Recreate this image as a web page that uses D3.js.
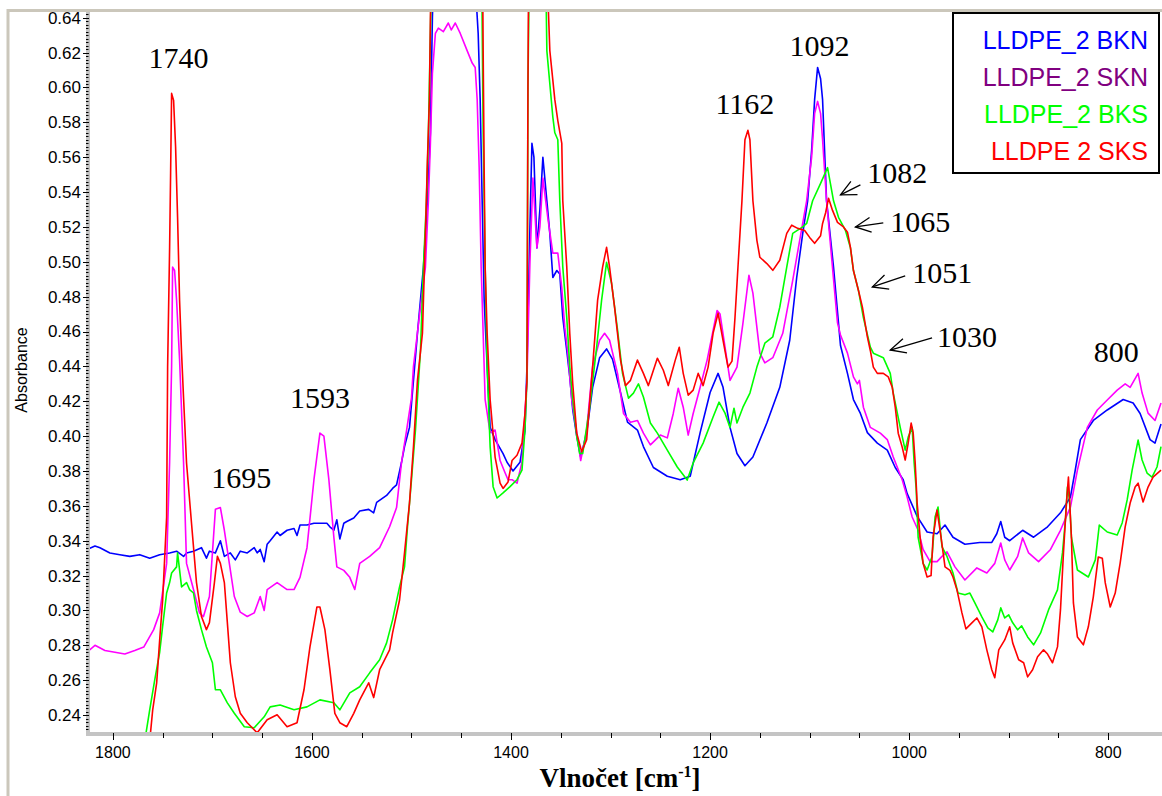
<!DOCTYPE html>
<html>
<head>
<meta charset="utf-8">
<script src="https://cdn.jsdelivr.net/npm/d3@7"></script>
<style>
  html, body { margin: 0; padding: 0; background: #fff; }
  svg { display: block; }
  .tick-label { font-family: "Liberation Sans", Arial, sans-serif; fill: #000; }
  .peak { font-family: "Liberation Serif", "Times New Roman", serif; font-size: 30px; fill: #000; }
</style>
</head>
<body>
<svg width="1162" height="796"></svg>
<script>
// wavenumber [cm-1], absorbance
const bkn = [[1826,0.335],[1818,0.337],[1813,0.336],[1803,0.333],[1793,0.332],[1783,0.331],[1773,0.332],[1763,0.330],[1753,0.332],[1743,0.333],[1736,0.334],[1729,0.331],[1726,0.333],[1719,0.334],[1711,0.336],[1706,0.330],[1703,0.334],[1697,0.333],[1692,0.340],[1688,0.331],[1682,0.333],[1677,0.329],[1672,0.334],[1665,0.333],[1658,0.336],[1655,0.333],[1652,0.335],[1648,0.328],[1645,0.338],[1642,0.340],[1635,0.345],[1632,0.343],[1625,0.346],[1618,0.347],[1615,0.343],[1612,0.349],[1605,0.349],[1598,0.350],[1592,0.350],[1585,0.350],[1582,0.348],[1578,0.346],[1575,0.352],[1572,0.341],[1568,0.350],[1565,0.351],[1558,0.353],[1552,0.357],[1543,0.358],[1538,0.356],[1535,0.362],[1525,0.366],[1519,0.370],[1515,0.372],[1510,0.385],[1507,0.394],[1502,0.405],[1494,0.459],[1488,0.497],[1484,0.535],[1481,0.574],[1479,0.640],[1476,0.700],[1470,0.720],[1440,0.720],[1436,0.660],[1433,0.631],[1431,0.593],[1429,0.535],[1427,0.478],[1424,0.440],[1421,0.405],[1416,0.398],[1408,0.390],[1404,0.385],[1398,0.380],[1391,0.385],[1386,0.403],[1384,0.440],[1381,0.520],[1379,0.568],[1377,0.560],[1374,0.508],[1371,0.530],[1368,0.560],[1364,0.535],[1361,0.516],[1358,0.491],[1354,0.495],[1351,0.493],[1348,0.468],[1344,0.449],[1341,0.434],[1338,0.415],[1334,0.400],[1330,0.388],[1324,0.402],[1318,0.428],[1311,0.445],[1304,0.450],[1298,0.444],[1290,0.425],[1283,0.408],[1273,0.4035],[1267,0.394],[1257,0.382],[1243,0.377],[1230,0.375],[1220,0.377],[1210,0.402],[1200,0.425],[1192,0.436],[1187,0.428],[1180,0.405],[1173,0.390],[1165,0.383],[1157,0.388],[1143,0.4075],[1130,0.428],[1120,0.455],[1113,0.491],[1107,0.516],[1102,0.535],[1098,0.564],[1095,0.593],[1092,0.6115],[1089,0.605],[1087,0.593],[1083,0.535],[1076,0.497],[1069,0.452],[1062,0.436],[1056,0.421],[1049,0.413],[1042,0.402],[1032,0.396],[1022,0.392],[1014,0.382],[1006,0.375],[1002,0.367],[992,0.354],[982,0.345],[972,0.344],[964,0.349],[956,0.342],[944,0.338],[929,0.339],[917,0.339],[912,0.344],[908,0.351],[904,0.342],[899,0.340],[886,0.346],[875,0.342],[861,0.348],[848,0.356],[838,0.365],[833,0.381],[828,0.398],[815,0.409],[801,0.415],[785,0.421],[775,0.419],[768,0.413],[758,0.398],[753,0.396],[747,0.407]];

const skn = [[1826,0.276],[1818,0.280],[1808,0.277],[1798,0.276],[1788,0.275],[1778,0.277],[1769,0.279],[1759,0.289],[1753,0.2986],[1746,0.327],[1743,0.385],[1741,0.440],[1740,0.497],[1738,0.495],[1736,0.478],[1733,0.444],[1729,0.385],[1726,0.327],[1719,0.312],[1713,0.2986],[1709,0.2965],[1703,0.308],[1697,0.358],[1692,0.359],[1688,0.346],[1683,0.327],[1678,0.308],[1672,0.299],[1665,0.2965],[1658,0.2986],[1652,0.308],[1648,0.300],[1645,0.312],[1635,0.316],[1625,0.312],[1618,0.312],[1612,0.319],[1605,0.336],[1598,0.375],[1592,0.4017],[1588,0.400],[1583,0.375],[1578,0.342],[1575,0.325],[1568,0.323],[1562,0.319],[1557,0.312],[1552,0.327],[1542,0.331],[1532,0.336],[1522,0.348],[1515,0.359],[1510,0.385],[1505,0.403],[1500,0.422],[1498,0.440],[1491,0.474],[1486,0.497],[1483,0.535],[1481,0.568],[1479,0.608],[1476,0.631],[1473,0.634],[1468,0.632],[1463,0.637],[1460,0.633],[1456,0.637],[1451,0.631],[1444,0.621],[1439,0.614],[1436,0.6115],[1434,0.593],[1432,0.554],[1430,0.497],[1428,0.459],[1426,0.421],[1421,0.402],[1416,0.4035],[1411,0.386],[1406,0.379],[1403,0.375],[1399,0.375],[1394,0.373],[1389,0.385],[1386,0.413],[1384,0.432],[1381,0.500],[1378,0.548],[1374,0.508],[1371,0.520],[1368,0.548],[1363,0.525],[1358,0.505],[1353,0.505],[1349,0.485],[1346,0.4625],[1343,0.448],[1339,0.421],[1334,0.402],[1330,0.386],[1324,0.4035],[1318,0.440],[1311,0.455],[1306,0.459],[1301,0.455],[1293,0.436],[1287,0.413],[1280,0.408],[1273,0.409],[1267,0.4017],[1260,0.395],[1250,0.4006],[1243,0.399],[1237,0.413],[1232,0.4275],[1227,0.4166],[1222,0.4006],[1217,0.413],[1210,0.428],[1203,0.4436],[1193,0.472],[1190,0.470],[1185,0.451],[1180,0.432],[1173,0.4396],[1167,0.4648],[1161,0.4923],[1157,0.482],[1150,0.4476],[1145,0.442],[1137,0.445],[1127,0.459],[1117,0.4894],[1110,0.5123],[1103,0.535],[1098,0.560],[1095,0.585],[1092,0.592],[1089,0.585],[1087,0.570],[1083,0.535],[1076,0.490],[1072,0.465],[1069,0.458],[1062,0.4476],[1056,0.434],[1052,0.430],[1050,0.432],[1046,0.4166],[1039,0.405],[1029,0.4017],[1022,0.398],[1016,0.388],[1007,0.375],[1002,0.365],[997,0.3536],[991,0.346],[986,0.335],[979,0.328],[972,0.328],[967,0.331],[962,0.3336],[954,0.325],[944,0.3175],[932,0.3244],[922,0.3215],[914,0.327],[908,0.3387],[904,0.329],[899,0.3232],[891,0.331],[886,0.3416],[880,0.333],[870,0.328],[858,0.335],[848,0.346],[838,0.3593],[831,0.3805],[821,0.405],[811,0.415],[801,0.4207],[791,0.4264],[783,0.430],[778,0.428],[770,0.436],[766,0.4247],[760,0.4132],[753,0.409],[747,0.419]];

const bks = [[1768,0.225],[1763,0.243],[1758,0.260],[1753,0.276],[1750,0.291],[1746,0.310],[1743,0.316],[1741,0.3215],[1736,0.325],[1735,0.333],[1731,0.3135],[1726,0.316],[1723,0.312],[1719,0.310],[1716,0.300],[1711,0.289],[1706,0.279],[1700,0.270],[1697,0.2545],[1692,0.2545],[1685,0.247],[1678,0.241],[1668,0.2333],[1658,0.2327],[1648,0.239],[1642,0.2447],[1632,0.2458],[1618,0.243],[1605,0.2447],[1592,0.2487],[1578,0.247],[1572,0.243],[1562,0.2527],[1552,0.2562],[1542,0.2642],[1532,0.2717],[1525,0.2814],[1519,0.2946],[1512,0.3135],[1507,0.325],[1504,0.348],[1500,0.375],[1496,0.4035],[1491,0.449],[1488,0.497],[1485,0.535],[1483,0.574],[1481,0.631],[1479,0.700],[1440,0.720],[1430,0.700],[1428,0.574],[1426,0.497],[1424,0.440],[1421,0.394],[1418,0.371],[1414,0.3645],[1408,0.3674],[1401,0.371],[1394,0.375],[1389,0.3805],[1386,0.4035],[1384,0.432],[1383,0.600],[1381,0.700],[1366,0.700],[1364,0.621],[1361,0.602],[1358,0.583],[1356,0.574],[1353,0.570],[1351,0.535],[1348,0.497],[1344,0.468],[1341,0.440],[1338,0.421],[1334,0.400],[1331,0.390],[1328,0.390],[1321,0.4166],[1314,0.451],[1309,0.478],[1304,0.4997],[1299,0.4877],[1293,0.461],[1288,0.436],[1282,0.4218],[1277,0.4247],[1272,0.430],[1267,0.4224],[1260,0.4075],[1253,0.4017],[1243,0.392],[1233,0.3823],[1223,0.3748],[1217,0.3846],[1207,0.396],[1197,0.411],[1191,0.4195],[1185,0.4132],[1180,0.405],[1176,0.416],[1173,0.4075],[1167,0.4166],[1160,0.4247],[1153,0.4396],[1145,0.4533],[1137,0.457],[1130,0.474],[1123,0.4969],[1117,0.5163],[1107,0.520],[1103,0.522],[1097,0.535],[1089,0.545],[1082,0.554],[1076,0.535],[1071,0.5255],[1064,0.518],[1059,0.508],[1056,0.495],[1051,0.4837],[1046,0.468],[1039,0.451],[1036,0.4476],[1026,0.445],[1019,0.436],[1016,0.4247],[1009,0.405],[1004,0.392],[1001,0.3994],[997,0.405],[995,0.3846],[993,0.370],[991,0.342],[986,0.327],[982,0.3232],[977,0.331],[974,0.3536],[971,0.3593],[967,0.3364],[962,0.331],[956,0.3215],[951,0.310],[944,0.309],[939,0.310],[934,0.3043],[927,0.2963],[921,0.290],[916,0.2877],[911,0.2946],[908,0.3015],[904,0.2957],[900,0.2975],[896,0.2929],[891,0.2889],[887,0.2912],[881,0.2848],[875,0.2803],[868,0.2871],[860,0.3003],[851,0.3118],[846,0.333],[843,0.352],[841,0.3708],[839,0.364],[837,0.342],[831,0.3232],[820,0.3192],[813,0.329],[809,0.349],[801,0.345],[791,0.3433],[786,0.3502],[781,0.3634],[776,0.3805],[770,0.3977],[766,0.3863],[761,0.3788],[756,0.3765],[751,0.3823],[747,0.394]];

const sks = [[1763,0.225],[1760,0.243],[1756,0.2585],[1753,0.283],[1750,0.306],[1746,0.3536],[1745,0.440],[1743,0.508],[1742,0.551],[1741,0.5966],[1739,0.5926],[1737,0.566],[1735,0.5255],[1733,0.478],[1731,0.4476],[1729,0.422],[1726,0.3846],[1721,0.350],[1716,0.316],[1711,0.2965],[1706,0.289],[1703,0.293],[1698,0.316],[1695,0.331],[1692,0.327],[1688,0.316],[1685,0.293],[1682,0.270],[1677,0.2505],[1672,0.241],[1665,0.2356],[1655,0.2298],[1645,0.2373],[1635,0.2402],[1625,0.2333],[1615,0.2356],[1608,0.2545],[1602,0.2791],[1595,0.302],[1592,0.302],[1587,0.289],[1582,0.266],[1577,0.241],[1572,0.2356],[1565,0.2333],[1558,0.241],[1552,0.2487],[1543,0.2585],[1538,0.250],[1532,0.266],[1522,0.2774],[1519,0.2871],[1512,0.306],[1507,0.333],[1502,0.3616],[1498,0.394],[1494,0.432],[1489,0.459],[1486,0.516],[1484,0.558],[1482,0.593],[1481,0.640],[1479,0.700],[1440,0.720],[1429,0.700],[1428,0.621],[1427,0.554],[1426,0.497],[1424,0.459],[1421,0.421],[1416,0.388],[1411,0.373],[1408,0.370],[1403,0.3737],[1399,0.386],[1394,0.389],[1389,0.396],[1386,0.413],[1384,0.432],[1383,0.600],[1382,0.700],[1366,0.700],[1361,0.621],[1356,0.593],[1353,0.581],[1349,0.568],[1348,0.535],[1344,0.497],[1341,0.459],[1338,0.430],[1334,0.4017],[1329,0.391],[1324,0.398],[1318,0.440],[1313,0.478],[1308,0.497],[1304,0.5083],[1301,0.497],[1296,0.474],[1290,0.4436],[1285,0.429],[1280,0.432],[1273,0.4436],[1267,0.436],[1262,0.429],[1253,0.4447],[1247,0.4378],[1242,0.429],[1235,0.4436],[1231,0.451],[1227,0.436],[1222,0.4235],[1217,0.4264],[1212,0.436],[1207,0.429],[1202,0.4396],[1197,0.459],[1192,0.4705],[1187,0.455],[1182,0.4396],[1178,0.443],[1175,0.468],[1172,0.497],[1168,0.535],[1165,0.570],[1162,0.5754],[1160,0.570],[1157,0.535],[1153,0.5123],[1150,0.5026],[1143,0.499],[1137,0.4951],[1130,0.5009],[1123,0.5163],[1118,0.521],[1112,0.5192],[1105,0.518],[1100,0.514],[1095,0.5106],[1089,0.515],[1087,0.522],[1084,0.528],[1081,0.5364],[1077,0.5295],[1072,0.5226],[1066,0.520],[1062,0.517],[1059,0.5083],[1056,0.495],[1051,0.4837],[1047,0.474],[1042,0.457],[1039,0.449],[1036,0.4396],[1032,0.436],[1026,0.436],[1021,0.434],[1017,0.428],[1014,0.4166],[1011,0.4017],[1007,0.3937],[1004,0.3863],[1001,0.396],[998,0.4075],[996,0.402],[994,0.385],[992,0.3616],[989,0.342],[986,0.327],[982,0.3192],[978,0.320],[976,0.342],[972,0.3576],[968,0.342],[964,0.325],[959,0.323],[956,0.3192],[952,0.3118],[947,0.2986],[943,0.2894],[937,0.2929],[932,0.2957],[927,0.2906],[922,0.2774],[917,0.266],[914,0.2614],[910,0.2774],[904,0.2831],[899,0.2906],[896,0.2814],[890,0.2717],[885,0.270],[881,0.2619],[876,0.266],[871,0.2734],[865,0.2774],[861,0.275],[856,0.270],[851,0.2791],[848,0.3003],[845,0.333],[842,0.3616],[840,0.3765],[837,0.342],[835,0.3043],[831,0.2848],[825,0.2803],[820,0.2906],[815,0.3078],[810,0.3307],[806,0.330],[803,0.3158],[798,0.302],[793,0.310],[788,0.3273],[783,0.3479],[778,0.3616],[773,0.3708],[770,0.373],[765,0.3622],[760,0.3708],[755,0.3765],[747,0.3805]];

const seriesNames = ["LLDPE_2 BKN", "LLDPE_2 SKN", "LLDPE_2 BKS", "LLDPE 2 SKS"];
const yTickValues = [0.24, 0.26, 0.28, 0.30, 0.32, 0.34, 0.36, 0.38, 0.40, 0.42, 0.44, 0.46, 0.48, 0.50, 0.52, 0.54, 0.56, 0.58, 0.60, 0.62, 0.64];
const xTickValues = [1800, 1600, 1400, 1200, 1000, 800];

// peak labels: [text, wavenumber, absorbance, anchor]
const peakLabels = [
  ["1740", 1734, 0.611, "middle"],
  ["1695", 1671, 0.370, "middle"],
  ["1593", 1592, 0.416, "middle"],
  ["1162", 1165, 0.585, "middle"],
  ["1092", 1090, 0.618, "middle"],
  ["1082", 1042, 0.545, "start"],
  ["1065", 1019, 0.517, "start"],
  ["1051", 997, 0.488, "start"],
  ["1030", 972, 0.451, "start"],
  ["800", 792, 0.4425, "middle"]
];
// arrows: [tail wn, tail abs, tip wn, tip abs]
const arrows = [
  [1049, 0.5441, 1069, 0.5384],
  [1026, 0.5223, 1054, 0.5200],
  [1004, 0.4919, 1037, 0.4856],
  [977, 0.4563, 1019, 0.4494]
];

const lineColors = ["#0000ff", "#ff00ff", "#00ff00", "#ff0000"];
const legendColors = ["#0000ff", "#800080", "#00ff00", "#ff0000"];

const svg = d3.select('svg');
const plotLeft = 87, plotRight = 1162, plotTop = 12, plotBottom = 733;

const x = d3.scaleLinear().domain([1826, 746]).range([plotLeft, plotRight]);
const y = d3.scaleLinear().domain([0.2297, 0.6433]).range([plotBottom, plotTop]);

// outer frame
svg.append('line').attr('x1', 8).attr('x2', 1162).attr('y1', 10.5).attr('y2', 10.5)
  .attr('stroke', '#cbc7bb').attr('stroke-width', 3);
svg.append('line').attr('x1', 8).attr('x2', 8).attr('y1', 9).attr('y2', 796)
  .attr('stroke', '#cbc7bb').attr('stroke-width', 3);

svg.append('clipPath').attr('id', 'plot-clip')
  .append('rect').attr('x', plotLeft + 2).attr('y', plotTop)
  .attr('width', plotRight - plotLeft).attr('height', plotBottom - plotTop);

const line = d3.line().x(d => x(d[0])).y(d => y(d[1]));

const plot = svg.append('g').attr('clip-path', 'url(#plot-clip)');
[bkn, skn, bks, sks].forEach((s, i) => {
  plot.append('path')
    .datum(s)
    .attr('fill', 'none')
    .attr('stroke', lineColors[i])
    .attr('stroke-width', 1.6)
    .attr('stroke-linejoin', 'round')
    .attr('d', line);
});

// y axis
const yAxis = svg.append('g');
yAxis.append('line').attr('x1', 88).attr('x2', 88).attr('y1', plotTop).attr('y2', plotBottom + 2)
  .attr('stroke', '#c4c4c4').attr('stroke-width', 4);
const yMinor = d3.range(230, 643, 2).map(v => v / 1000);
yAxis.selectAll('.yminor').data(yMinor).enter().append('line')
  .attr('x1', 86).attr('x2', 88.5)
  .attr('y1', d => Math.round(y(d)) + 0.5).attr('y2', d => Math.round(y(d)) + 0.5)
  .attr('stroke', '#000').attr('stroke-width', 1);
yAxis.selectAll('.ymajor').data(yTickValues).enter().append('line')
  .attr('x1', 83).attr('x2', 89)
  .attr('y1', d => Math.round(y(d)) + 0.5).attr('y2', d => Math.round(y(d)) + 0.5)
  .attr('stroke', '#000').attr('stroke-width', 1);
yAxis.selectAll('.ylab').data(yTickValues).enter().append('text')
  .attr('class', 'tick-label')
  .attr('x', 81).attr('y', d => y(d))
  .attr('dy', '0.35em')
  .attr('text-anchor', 'end')
  .style('font-size', '17px')
  .text(d => d.toFixed(2));

svg.append('text')
  .attr('class', 'tick-label')
  .attr('transform', 'translate(27,370) rotate(-90)')
  .attr('text-anchor', 'middle')
  .style('font-size', '16px')
  .text('Absorbance');

// x axis
const xAxis = svg.append('g');
xAxis.append('line').attr('x1', 86).attr('x2', plotRight).attr('y1', 734).attr('y2', 734)
  .attr('stroke', '#c4c4c4').attr('stroke-width', 4);
const xMinor = d3.range(800, 1801, 50);
xAxis.selectAll('.xminor').data(xMinor).enter().append('line')
  .attr('x1', d => Math.round(x(d)) + 0.5).attr('x2', d => Math.round(x(d)) + 0.5)
  .attr('y1', 733).attr('y2', d => d % 200 === 0 ? 740 : 738)
  .attr('stroke', '#000').attr('stroke-width', 1);
xAxis.selectAll('.xlab').data(xTickValues).enter().append('text')
  .attr('class', 'tick-label')
  .attr('x', d => x(d)).attr('y', 758)
  .attr('text-anchor', 'middle')
  .style('font-size', '16px')
  .text(d => d);

const xTitle = svg.append('text')
  .attr('x', 620).attr('y', 787)
  .attr('text-anchor', 'middle')
  .style('font-family', '"Liberation Serif", "Times New Roman", serif')
  .style('font-weight', 'bold')
  .style('font-size', '27px');
xTitle.append('tspan').text('Vlnočet [cm');
xTitle.append('tspan').attr('dy', -10).style('font-size', '16px').text('-1');
xTitle.append('tspan').attr('dy', 10).text(']');

// peak labels
svg.selectAll('.peak').data(peakLabels).enter().append('text')
  .attr('class', 'peak')
  .attr('x', d => x(d[1])).attr('y', d => y(d[2]))
  .attr('text-anchor', d => d[3])
  .text(d => d[0]);

// arrows with open heads
const arrowG = svg.append('g').attr('stroke', '#000').attr('stroke-width', 1.3).attr('fill', 'none');
arrows.forEach(a => {
  const x1 = x(a[0]), y1 = y(a[1]), x2 = x(a[2]), y2 = y(a[3]);
  const ang = Math.atan2(y1 - y2, x1 - x2);
  const len = 17, spread = 0.45;
  arrowG.append('line').attr('x1', x1).attr('y1', y1).attr('x2', x2).attr('y2', y2);
  arrowG.append('path').attr('d',
    `M${x2 + len * Math.cos(ang - spread)},${y2 + len * Math.sin(ang - spread)}` +
    `L${x2},${y2}` +
    `L${x2 + len * Math.cos(ang + spread)},${y2 + len * Math.sin(ang + spread)}`);
});

// legend
const legend = svg.append('g');
legend.append('rect')
  .attr('x', 953).attr('y', 13).attr('width', 206).attr('height', 160)
  .attr('fill', '#fff').attr('stroke', '#000').attr('stroke-width', 2);
legend.selectAll('text').data(seriesNames).enter().append('text')
  .attr('x', 1148).attr('y', (_, i) => 49 + i * 37)
  .attr('text-anchor', 'end')
  .style('font-family', '"Liberation Sans", Arial, sans-serif')
  .style('font-size', '25px')
  .attr('fill', (_, i) => legendColors[i])
  .text(d => d);
</script>
</body>
</html>
